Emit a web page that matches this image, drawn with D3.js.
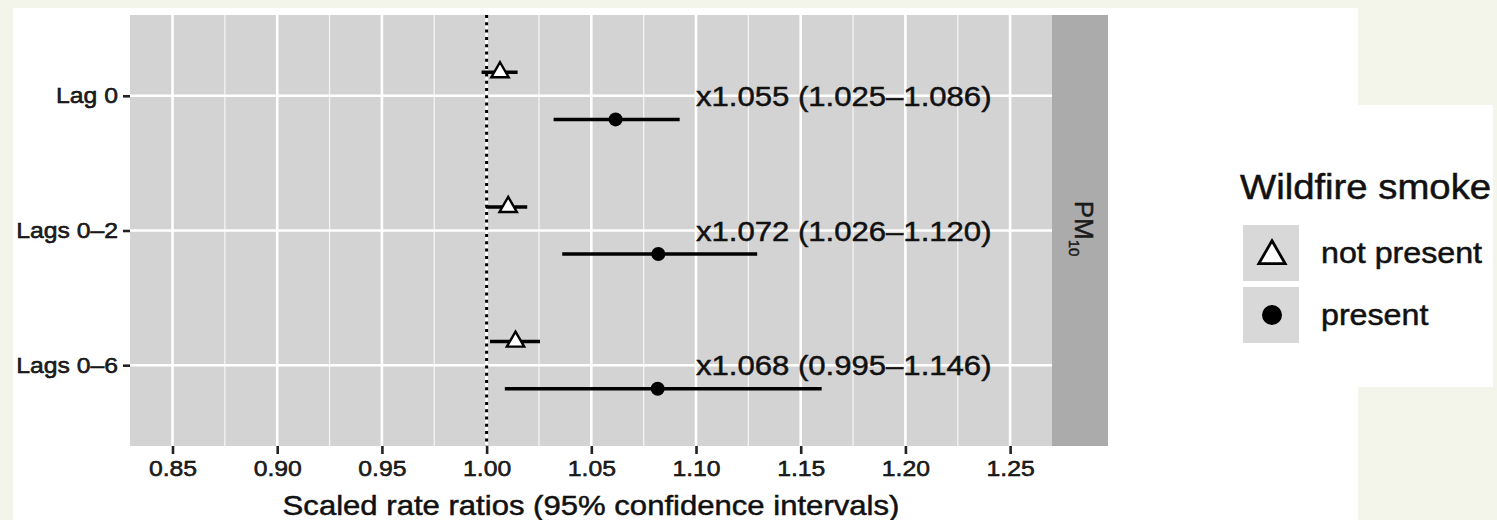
<!DOCTYPE html>
<html lang="en">
<head>
<meta charset="utf-8">
<title>Scaled rate ratios, PM10</title>
<script src="https://d3js.org/d3.v7.min.js"></script>
<style>
  body { margin: 0; background: #f3f5ea; }
  svg { display: block; font-family: "Liberation Sans", Arial, sans-serif; }
  .axis path.domain { display: none; }
  .axis line { stroke: #222; stroke-width: 2.6; }
  .axis text { fill: #222; font-size: 22.3px; }
</style>
</head>
<body>
<script>
// data
var lags = ["Lag 0", "Lags 0\u20132", "Lags 0\u20136"];
var smokeGroups = ["not present", "present"];
var estNotPresent = [1.0064, 1.0103, 1.0138];
var lowNotPresent = [0.9976, 0.9997, 1.0016];
var highNotPresent = [1.0148, 1.0194, 1.0255];
var estPresent = [1.0616, 1.0820, 1.0817];
var lowPresent = [1.0320, 1.0361, 1.0087];
var highPresent = [1.0922, 1.1292, 1.1600];
var labels = ["x1.055 (1.025\u20131.086)", "x1.072 (1.026\u20131.120)", "x1.068 (0.995\u20131.146)"];
var labelX = 1.10;
var xTicks = [0.85, 0.90, 0.95, 1.00, 1.05, 1.10, 1.15, 1.20, 1.25];
var xMinor = [0.875, 0.925, 0.975, 1.025, 1.075, 1.125, 1.175, 1.225];
var stripLabel = "PM", stripSub = "10";

var W = 1497, H = 520;
var SX = 1.11; // the source picture is a bit wider than tall

var svg = d3.select("body").append("svg")
  .attr("width", W).attr("height", H);

// background: cream page, white figure, white legend box pasted on top
svg.append("rect").attr("width", W).attr("height", H).attr("fill", "#f3f5ea");
svg.append("rect").attr("x", 13).attr("y", 8).attr("width", 1345).attr("height", H - 8).attr("fill", "#fff");
svg.append("rect").attr("x", 1200).attr("y", 105).attr("width", 293).attr("height", 282).attr("fill", "#fff");

var pLeft = 130, pRight = 1052, pTop = 15, pBottom = 446;

var x = d3.scaleLinear().domain([0.8297, 1.2700]).range([pLeft, pRight]);
var y = d3.scalePoint().domain(lags).range([pTop, pBottom]).padding(0.6);
var dodge = y.step() * 0.175;

var g = svg.append("g");

// panel
g.append("rect").attr("x", pLeft).attr("y", pTop)
  .attr("width", pRight - pLeft).attr("height", pBottom - pTop).attr("fill", "#d3d3d3");

g.selectAll(".minor").data(xMinor).enter().append("line")
  .attr("x1", function(d) { return x(d); }).attr("x2", function(d) { return x(d); })
  .attr("y1", pTop).attr("y2", pBottom)
  .attr("stroke", "#f4f4f4").attr("stroke-width", 1.3);

g.selectAll(".major").data(xTicks).enter().append("line")
  .attr("x1", function(d) { return x(d); }).attr("x2", function(d) { return x(d); })
  .attr("y1", pTop).attr("y2", pBottom)
  .attr("stroke", "#fff").attr("stroke-width", 2.6);

g.selectAll(".hmajor").data(lags).enter().append("line")
  .attr("x1", pLeft).attr("x2", pRight)
  .attr("y1", function(d) { return y(d); }).attr("y2", function(d) { return y(d); })
  .attr("stroke", "#fff").attr("stroke-width", 2.6);

// reference line at 1
g.append("line")
  .attr("x1", x(1)).attr("x2", x(1)).attr("y1", pTop).attr("y2", pBottom)
  .attr("stroke", "#000").attr("stroke-width", 3).attr("stroke-dasharray", "3,4.3");

// strip on the right
g.append("rect").attr("x", pRight).attr("y", pTop)
  .attr("width", 56).attr("height", pBottom - pTop).attr("fill", "#ababab");
var st = g.append("text")
  .attr("class", "plain")
  .attr("transform", "translate(" + (pRight + 28 - 5) + "," + ((pTop + pBottom) / 2 - 2) + ") rotate(90)")
  .attr("text-anchor", "middle")
  .attr("font-size", 26).attr("fill", "#1a1a1a");
st.append("tspan").text(stripLabel);
st.append("tspan").attr("font-size", 15).attr("dy", 6).text(stripSub);

// error bars and points
var rows = lags.map(function(l, i) {
  return {lag: l, e0: estNotPresent[i], l0: lowNotPresent[i], h0: highNotPresent[i],
          e1: estPresent[i], l1: lowPresent[i], h1: highPresent[i], label: labels[i]};
});

g.selectAll(".bar0").data(rows).enter().append("line")
  .attr("x1", function(d) { return x(d.l0); }).attr("x2", function(d) { return x(d.h0); })
  .attr("y1", function(d) { return y(d.lag) - dodge; }).attr("y2", function(d) { return y(d.lag) - dodge; })
  .attr("stroke", "#000").attr("stroke-width", 3.5);

g.selectAll(".bar1").data(rows).enter().append("line")
  .attr("x1", function(d) { return x(d.l1); }).attr("x2", function(d) { return x(d.h1); })
  .attr("y1", function(d) { return y(d.lag) + dodge; }).attr("y2", function(d) { return y(d.lag) + dodge; })
  .attr("stroke", "#000").attr("stroke-width", 3.5);

var tri = d3.symbol().type(d3.symbolTriangle).size(130);
g.selectAll(".pt0").data(rows).enter().append("path")
  .attr("d", tri)
  .attr("transform", function(d) { return "translate(" + x(d.e0) + "," + (y(d.lag) - dodge) + ")"; })
  .attr("fill", "#fff").attr("stroke", "#000").attr("stroke-width", 2.4);

g.selectAll(".pt1").data(rows).enter().append("circle")
  .attr("cx", function(d) { return x(d.e1); })
  .attr("cy", function(d) { return y(d.lag) + dodge; })
  .attr("r", 7).attr("fill", "#000");

g.selectAll(".lab").data(rows).enter().append("text")
  .attr("class", "st")
  .attr("x", x(labelX)).attr("y", function(d) { return y(d.lag); })
  .attr("dy", "0.36em")
  .attr("font-size", 28).attr("fill", "#111")
  .text(function(d) { return d.label; });

// axes
svg.append("g").attr("class", "axis")
  .attr("transform", "translate(0," + pBottom + ")")
  .call(d3.axisBottom(x).tickValues(xTicks).tickSize(8).tickPadding(6).tickFormat(d3.format(".2f")));

svg.append("g").attr("class", "axis")
  .attr("transform", "translate(" + pLeft + ",0)")
  .call(d3.axisLeft(y).tickSize(7).tickPadding(5));

svg.append("text").attr("class", "st")
  .attr("x", (pLeft + pRight) / 2).attr("y", 515)
  .attr("text-anchor", "middle")
  .attr("font-size", 28).attr("fill", "#111")
  .text("Scaled rate ratios (95% confidence intervals)");

// legend
var lg = svg.append("g");
lg.append("text").attr("class", "st")
  .attr("x", 1240).attr("y", 199)
  .attr("font-size", 34.5).attr("fill", "#111")
  .text("Wildfire smoke");

var keyY = [225, 287];
lg.selectAll(".key").data(smokeGroups).enter().append("rect")
  .attr("x", 1243).attr("y", function(d, i) { return keyY[i]; })
  .attr("width", 56).attr("height", 56).attr("fill", "#d8d8d8");

lg.append("path").attr("d", d3.symbol().type(d3.symbolTriangle).size(300))
  .attr("transform", "translate(1272," + (keyY[0] + 31) + ")")
  .attr("fill", "#fff").attr("stroke", "#000").attr("stroke-width", 2.8);
lg.append("circle").attr("cx", 1272).attr("cy", keyY[1] + 28).attr("r", 10).attr("fill", "#000");

lg.selectAll(".ktext").data(smokeGroups).enter().append("text")
  .attr("class", "st")
  .attr("x", 1321).attr("y", function(d, i) { return keyY[i] + 28; })
  .attr("dy", "0.36em")
  .attr("font-size", 29).attr("fill", "#111")
  .text(function(d) { return d; });

// widen glyphs to match the source picture's aspect, and thicken them a touch
svg.selectAll("text.st, .axis text").each(function() {
  var len = this.getComputedTextLength();
  d3.select(this).attr("textLength", len * SX).attr("lengthAdjust", "spacingAndGlyphs");
});
svg.selectAll("text").each(function() {
  var t = d3.select(this);
  t.attr("stroke", t.attr("fill") || "#222").attr("stroke-width", 0.5);
});
</script>
</body>
</html>
